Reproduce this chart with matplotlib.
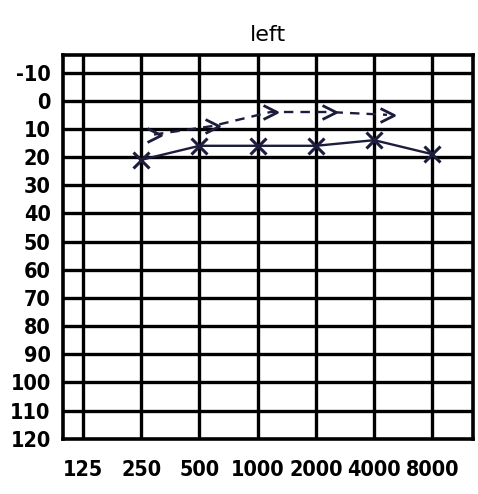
import numpy as np
import matplotlib.pyplot as plt
from matplotlib.path import Path

# audiogram, left ear
freqs = [125, 250, 500, 1000, 2000, 4000, 8000]
freq_labels = ["125", "250", "500", "1000", "2000", "4000", "8000"]
db_ticks = list(range(-10, 130, 10))

# air conduction (X), left
air_freqs = [250, 500, 1000, 2000, 4000, 8000]
air_db = [21, 16, 16, 16, 14, 19]

# bone conduction (>), left
bone_freqs = [250, 500, 1000, 2000, 4000]
bone_db = [12, 9, 4, 4, 5]

ink = "#1c1c3c"
chevron = Path([(-1, 1), (1, 0), (-1, -1)], [Path.MOVETO, Path.LINETO, Path.LINETO])


def octave(f):
    return np.log2(np.asarray(f, dtype=float) / 125.0)


fig = plt.figure(figsize=(4.78, 4.94), dpi=100)
ax = fig.add_axes([0.132, 0.112, 0.858, 0.777])

ax.set_xlim(-0.34, 6.7)
ax.set_ylim(120, -16.3)

for x in octave(freqs):
    ax.axvline(x, color="black", lw=2.4, zorder=1)
for y in db_ticks[:-1]:
    ax.axhline(y, color="black", lw=2.4, zorder=1)
for s in ax.spines.values():
    s.set_linewidth(2.6)

lab_font = dict(family="DejaVu Sans", stretch="condensed", weight="bold", size=15.5)
ax.set_xticks(octave(freqs))
ax.set_xticklabels(freq_labels, **lab_font)
ax.set_yticks(db_ticks)
ax.set_yticklabels([str(v) for v in db_ticks], **lab_font)
ax.tick_params(length=0)
ax.tick_params(axis="x", pad=15)
ax.tick_params(axis="y", pad=9)

# bone conduction, marks sit just right of the frequency line
bx = octave(bone_freqs) + 0.22
ax.plot(bx, bone_db, color=ink, lw=1.7, ls=(0, (4, 3)), marker=chevron,
        ms=10, mew=2.0, fillstyle="none", zorder=3)

ax.plot(octave(air_freqs), air_db, color=ink, lw=1.7, marker="x",
        ms=12, mew=2.2, zorder=3)

ax.set_title("left", fontsize=16, family="DejaVu Sans", pad=10)

fig.savefig("out.png", dpi=100)
